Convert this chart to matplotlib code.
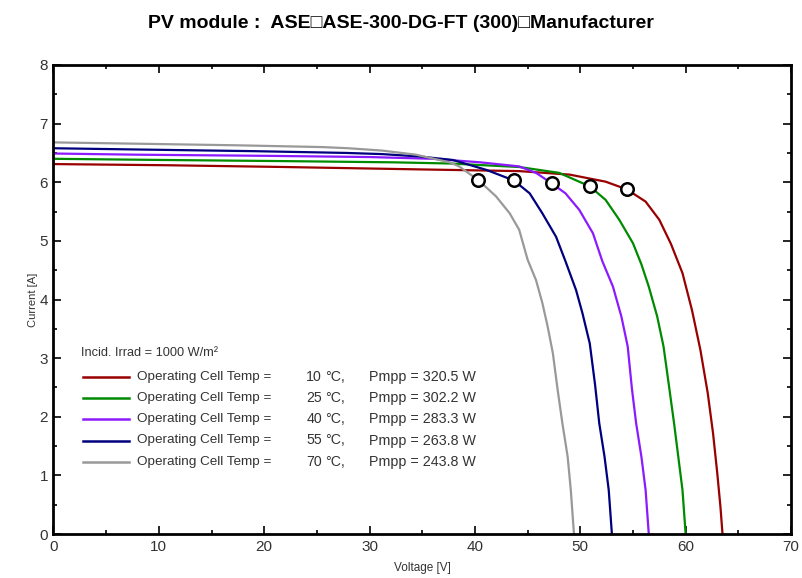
import matplotlib
matplotlib.use("Agg")
import matplotlib.pyplot as plt
from matplotlib.ticker import MultipleLocator

plt.rcParams["font.family"] = ["Liberation Sans", "DejaVu Sans"]

# I-V curves (voltage [V], current [A])
v_10 = [0, 10.9, 21.9, 34.5, 44.2, 49.0, 52.4, 54.4, 56.2, 57.5, 58.6, 59.7, 60.6, 61.4, 62.1, 62.6, 63.0, 63.3, 63.5]
i_10 = [6.31, 6.29, 6.26, 6.22, 6.19, 6.13, 6.01, 5.88, 5.67, 5.36, 4.95, 4.45, 3.82, 3.14, 2.40, 1.72, 1.04, 0.47, 0.0]

v_25 = [0, 10.4, 22.2, 32.2, 37.6, 44.2, 48.0, 50.9, 52.4, 53.7, 55.0, 55.8, 56.5, 57.3, 57.9, 58.4, 58.9, 59.3, 59.7, 60.0]
i_25 = [6.40, 6.38, 6.36, 6.34, 6.32, 6.26, 6.16, 5.93, 5.70, 5.36, 4.96, 4.60, 4.22, 3.71, 3.20, 2.55, 1.89, 1.32, 0.75, 0.0]

v_40 = [0, 8.0, 20.5, 30.0, 36.0, 40.5, 44.2, 45.8, 47.3, 48.6, 49.9, 51.2, 52.1, 53.1, 53.9, 54.5, 54.9, 55.3, 55.8, 56.2, 56.5]
i_40 = [6.49, 6.47, 6.45, 6.43, 6.40, 6.34, 6.27, 6.16, 5.98, 5.81, 5.53, 5.13, 4.65, 4.22, 3.71, 3.20, 2.48, 1.89, 1.32, 0.75, 0.0]

v_55 = [0, 7.4, 19.1, 27.8, 31.2, 34.7, 37.9, 41.1, 43.7, 45.2, 46.4, 47.7, 48.6, 49.6, 50.2, 50.9, 51.4, 51.8, 52.3, 52.7, 53.0]
i_55 = [6.58, 6.56, 6.53, 6.50, 6.48, 6.44, 6.38, 6.21, 6.03, 5.81, 5.47, 5.07, 4.65, 4.16, 3.77, 3.25, 2.55, 1.89, 1.32, 0.75, 0.0]

v_70 = [0, 7.0, 17.5, 25.5, 28.0, 31.2, 34.4, 37.6, 38.5, 40.3, 42.0, 43.3, 44.2, 45.0, 45.8, 46.4, 46.9, 47.4, 47.85, 48.3, 48.8, 49.1, 49.4]
i_70 = [6.68, 6.66, 6.63, 6.60, 6.58, 6.54, 6.47, 6.34, 6.27, 6.04, 5.76, 5.47, 5.19, 4.68, 4.33, 3.94, 3.54, 3.08, 2.46, 1.89, 1.32, 0.75, 0.0]

# maximum power points
mpp_v = [54.4, 50.9, 47.3, 43.7, 40.3]
mpp_i = [5.88, 5.93, 5.98, 6.03, 6.04]

temps = [10, 25, 40, 55, 70]
pmpp = [320.5, 302.2, 283.3, 263.8, 243.8]
colors = ["#990000", "#008a00", "#8c1aff", "#00007f", "#999999"]

curves = [(v_10, i_10), (v_25, i_25), (v_40, i_40), (v_55, i_55), (v_70, i_70)]

fig = plt.figure(figsize=(8.02, 5.78), dpi=100)
ax = fig.add_axes([53.5 / 802, 1 - 534 / 578, (791 - 53.5) / 802, (534 - 65) / 578])

for (v, i), c in zip(curves, colors):
    ax.plot(v, i, color=c, lw=1.6, solid_joinstyle="round")

ax.plot(mpp_v, mpp_i, "o", ms=9, mfc="white", mec="black", mew=1.8, zorder=5)

ax.set_xlim(0, 70)
ax.set_ylim(0, 8)
ax.xaxis.set_major_locator(MultipleLocator(10))
ax.xaxis.set_minor_locator(MultipleLocator(5))
ax.yaxis.set_major_locator(MultipleLocator(1))
ax.yaxis.set_minor_locator(MultipleLocator(0.5))
ax.tick_params(which="both", direction="in", top=True, right=True, width=1.2,
               labelsize=11, labelcolor="#333333")
ax.tick_params(which="major", length=6, pad=4)
ax.tick_params(which="minor", length=3)
for s in ax.spines.values():
    s.set_linewidth(2)

ax.set_xlabel("Voltage [V]", fontsize=8.5, color="#333333", labelpad=6)
ax.set_ylabel("Current [A]", fontsize=8, color="#333333", labelpad=1)

fig.suptitle("PV module :  ASE\u25a1ASE-300-DG-FT (300)\u25a1Manufacturer",
             x=0.5, y=1 - 23 / 578, va="center", fontsize=14, fontweight="bold")


# hand-drawn legend block, in axes fraction
def ax_pos(px, py):
    return (px - 53.5) / 737.5, (534 - py) / 469


tx, ty = ax_pos(81, 353)
ax.text(tx, ty, "Incid. Irrad = 1000 W/m\u00b2", transform=ax.transAxes,
        fontsize=9.2, color="#333333", va="center")
row_y = [377, 398, 419, 440.5, 462]
for yy, c, t, p in zip(row_y, colors, temps, pmpp):
    x0, y0 = ax_pos(83, yy)
    x1, _ = ax_pos(129, yy)
    ax.plot([x0, x1], [y0, y0], color=c, lw=1.8, transform=ax.transAxes)
    xa, _ = ax_pos(137, yy)
    ax.text(xa, y0, "Operating Cell Temp =", transform=ax.transAxes,
            fontsize=9.7, color="#333333", va="center")
    xb, _ = ax_pos(322, yy)
    ax.text(xb, y0, f"{t}", transform=ax.transAxes, ha="right",
            fontsize=10.2, color="#333333", va="center")
    xc, _ = ax_pos(325, yy)
    ax.text(xc, y0, "\u00b0C,", transform=ax.transAxes,
            fontsize=10.2, color="#333333", va="center")
    xd, _ = ax_pos(369, yy)
    ax.text(xd, y0, f"Pmpp = {p} W", transform=ax.transAxes,
            fontsize=10.3, color="#333333", va="center")

fig.savefig("out.png", dpi=100)
